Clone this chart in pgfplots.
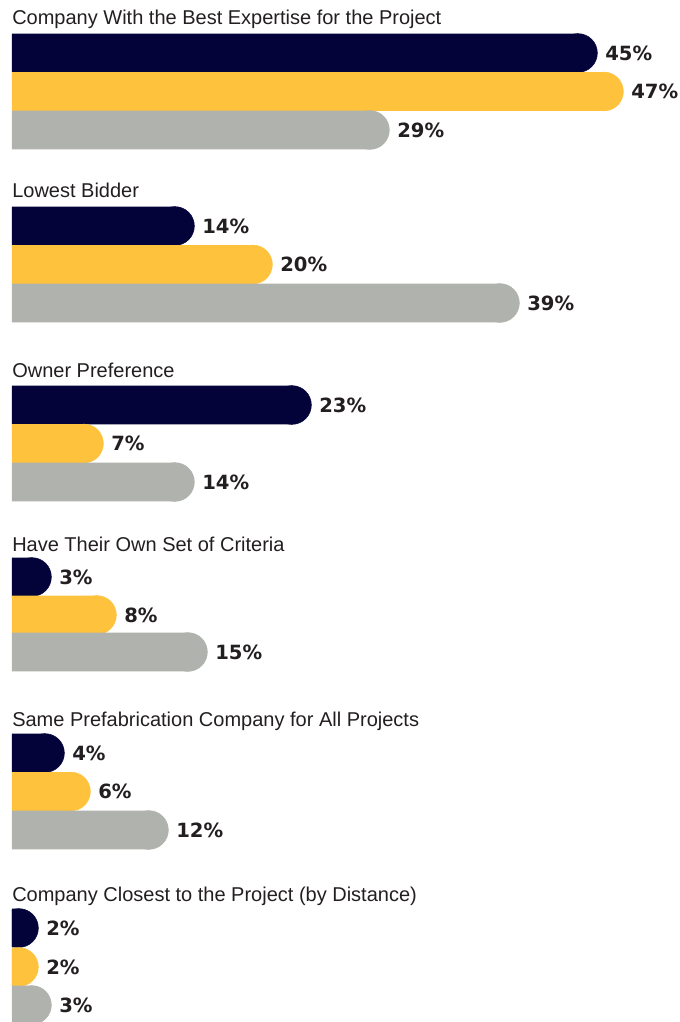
\documentclass[border=0pt]{standalone}
\usepackage{pgfplots}
\usepackage{pgfplotstable}
\usepackage{fontspec}
\pgfplotsset{compat=1.18}
\setmainfont{Liberation Sans}
\newfontfamily\labfont{DejaVu Sans}
\definecolor{navy}{HTML}{03033A}
\definecolor{gold}{HTML}{FFC23C}
\definecolor{grey}{HTML}{B0B2AD}
\definecolor{txt}{HTML}{231F20}
% y = bar centre in px from top, v = percent
\pgfplotstableread{
y v
53 45
226 14
405 23
577 3
753 4
928 2
}\navydata
\pgfplotstableread{
y v
91.5 47
264.5 20
443.5 7
615 8
791.5 6
967 2
}\golddata
\pgfplotstableread{
y v
130 29
303 39
482 14
652 15
830 12
1005 3
}\greydata
\def\R{1.4615}
\pgfplotsset{
  barpart/.style={xbar, bar width=29pt, bar shift=0pt, fill=#1, draw=none},
  cappart/.style={only marks, draw=#1, fill=#1, mark=*, mark size=14.5pt,
    mark options={fill=#1, draw=none},
    point meta=explicit, nodes near coords={\pgfmathprintnumber{\pgfplotspointmeta}\%}},
}
\begin{document}
\begin{tikzpicture}
\begin{axis}[
  scale only axis,
  width=501pt, height=766.5pt,
  xmin=0, xmax=51.385,
  ymin=0, ymax=1022, y dir=reverse,
  axis lines=none, ticks=none,
  clip=true, clip marker paths=true,
  /pgf/number format/assume math mode=true,
  every node near coord/.style={font=\labfont\bfseries\fontsize{14.7pt}{16pt}\selectfont, text=txt, anchor=west, xshift=20.25pt, inner sep=0pt},
]
\addplot[barpart=navy] table[x expr=\thisrow{v}-\R, y=y] {\navydata};
\addplot[cappart=navy] table[x expr=\thisrow{v}-\R, y=y, meta=v] {\navydata};
\addplot[barpart=gold] table[x expr=\thisrow{v}-\R, y=y] {\golddata};
\addplot[cappart=gold] table[x expr=\thisrow{v}-\R, y=y, meta=v] {\golddata};
\addplot[barpart=grey] table[x expr=\thisrow{v}-\R, y=y] {\greydata};
\addplot[cappart=grey] table[x expr=\thisrow{v}-\R, y=y, meta=v] {\greydata};
\begin{scope}[every node/.style={anchor=base west, inner sep=0pt, font=\fontsize{15pt}{17pt}\selectfont, text=txt}]
\node at (axis cs:0,25) {Company With the Best Expertise for the Project};
\node at (axis cs:0,198) {Lowest Bidder};
\node at (axis cs:0,377) {Owner Preference};
\node at (axis cs:0,551) {Have Their Own Set of Criteria};
\node at (axis cs:0,726) {Same Prefabrication Company for All Projects};
\node at (axis cs:0,901) {Company Closest to the Project (by Distance)};
\end{scope}
\end{axis}
\pgfresetboundingbox
\path (current axis.south west) ++(-9pt,0) rectangle (current axis.north east);
\end{tikzpicture}
\end{document}
